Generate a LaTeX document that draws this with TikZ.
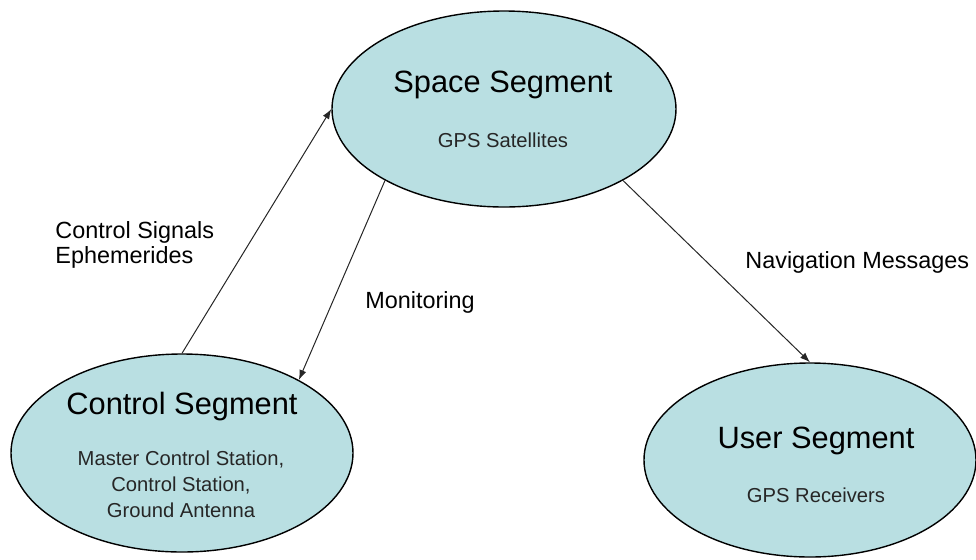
\documentclass[tikz,border=0pt]{standalone}
\usepackage{fontspec}
\setmainfont{Liberation Sans}
\usetikzlibrary{arrows.meta,positioning,shapes.geometric}
\definecolor{segfill}{RGB}{185,223,226}

\begin{document}
\begin{tikzpicture}[x=0.5pt,y=-0.5pt,
          segment/.style={ellipse, draw=black, line width=0.7pt, fill=segfill, inner sep=0pt},
          segtitle/.style={font=\fontsize{15.4}{18}\selectfont, anchor=base, inner sep=0pt},
          segsub/.style={font=\fontsize{10.1}{13}\selectfont, text=black!85, align=center, anchor=base, inner sep=0pt},
          lbl/.style={font=\fontsize{11.7}{12.5}\selectfont, align=left, anchor=base west, inner sep=0pt},
          link/.style={black!85, line width=0.5pt, -{Latex[length=5pt,width=3.6pt]}}
        ]
          \useasboundingbox (0,0) rectangle (976,559);

          % Segmente
          \node[segment, minimum width=172pt, minimum height=98pt] (space) at (504,109) {};
          \node[segment, minimum width=171pt, minimum height=99pt] (ctrl) at (182,453) {};
          \node[segment, minimum width=166pt, minimum height=97pt] (user) at (810,460) {};

          % Beschriftung der Segmente
          \node[segtitle] (spaceT) at (503,92) {Space Segment};
          \node[segsub] (spaceS) at (503,147) {GPS Satellites};
          \node[segtitle] (ctrlT) at (182,414) {Control Segment};
          \node[segsub] (ctrlS) at (181,517) {Master Control Station,\\ Control Station,\\ Ground Antenna};
          \node[segtitle] (userT) at (816,448) {User Segment};
          \node[segsub] (userS) at (816,502) {GPS Receivers};

          % Verbindungen
          \draw[link] (ctrl.north) -- (space.west);
          \draw[link] (space.211) -- (ctrl.32);
          \draw[link] (space.329) -- (user.north);

          % Signale
          \node[lbl] (ctrlsig) at (55,263) {Control Signals\\Ephemerides};
          \node[lbl] (monit) at (365,308) {Monitoring};
          \node[lbl] (navmsg) at (745,268) {Navigation Messages};
        \end{tikzpicture}
\end{document}
